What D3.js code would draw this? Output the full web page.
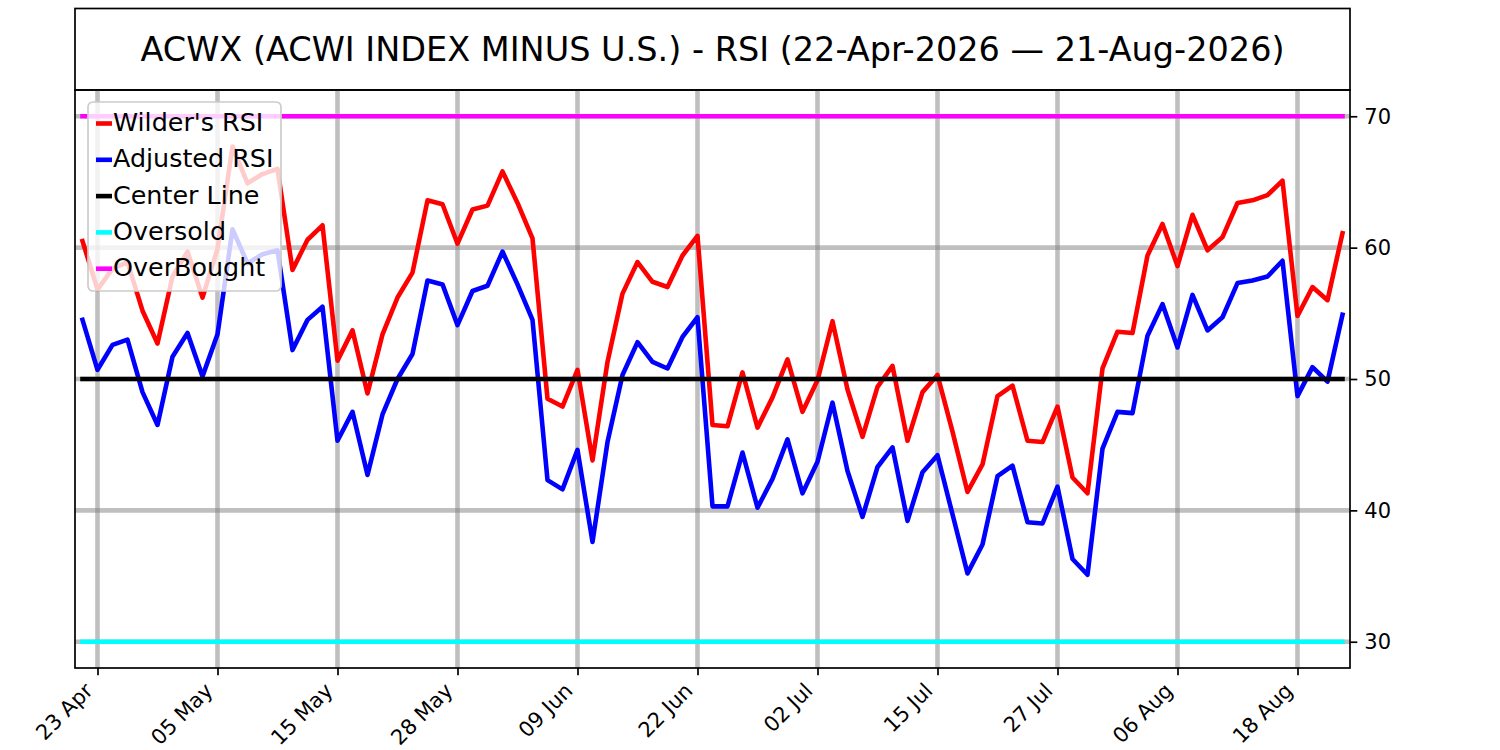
<!DOCTYPE html>
<html>
<head>
<meta charset="utf-8">
<script src="https://cdn.jsdelivr.net/npm/d3@7"></script>
<style>
  body { margin: 0; background: #fff; }
  text { font-family: "DejaVu Sans", sans-serif; }
</style>
</head>
<body>
<svg width="1500" height="750"></svg>
<script>
// trading days shown on the chart (US holidays skipped)
const dates = [
  "2026-04-22","2026-04-23","2026-04-24","2026-04-27","2026-04-28","2026-04-29","2026-04-30",
  "2026-05-01","2026-05-04","2026-05-05","2026-05-06","2026-05-07","2026-05-08","2026-05-11",
  "2026-05-12","2026-05-13","2026-05-14","2026-05-15","2026-05-18","2026-05-19","2026-05-20",
  "2026-05-21","2026-05-22","2026-05-26","2026-05-27","2026-05-28","2026-05-29","2026-06-01",
  "2026-06-02","2026-06-03","2026-06-04","2026-06-05","2026-06-08","2026-06-09","2026-06-10",
  "2026-06-11","2026-06-12","2026-06-15","2026-06-16","2026-06-17","2026-06-18","2026-06-22",
  "2026-06-23","2026-06-24","2026-06-25","2026-06-26","2026-06-29","2026-06-30","2026-07-01",
  "2026-07-02","2026-07-06","2026-07-07","2026-07-08","2026-07-09","2026-07-10","2026-07-13",
  "2026-07-14","2026-07-15","2026-07-16","2026-07-17","2026-07-20","2026-07-21","2026-07-22",
  "2026-07-23","2026-07-24","2026-07-27","2026-07-28","2026-07-29","2026-07-30","2026-07-31",
  "2026-08-03","2026-08-04","2026-08-05","2026-08-06","2026-08-07","2026-08-10","2026-08-11",
  "2026-08-12","2026-08-13","2026-08-14","2026-08-17","2026-08-18","2026-08-19","2026-08-20",
  "2026-08-21"
];

const wildersRsi = [
  60.5, 56.8, 58.4, 58.9, 55.2, 52.7, 57.8, 59.7, 56.2, 59.9,
  67.7, 64.9, 65.6, 66.0, 58.3, 60.6, 61.7, 51.4, 53.7, 48.9,
  53.4, 56.2, 58.1, 63.6, 63.3, 60.3, 62.9, 63.2, 65.8, 63.4,
  60.7, 48.5, 47.9, 50.7, 43.8, 51.3, 56.5, 58.9, 57.4, 57.0,
  59.4, 60.9, 46.5, 46.4, 50.5, 46.3, 48.6, 51.5, 47.5, 49.9,
  54.4, 49.2, 45.6, 49.4, 51.0, 45.3, 49.0, 50.3, 46.0, 41.4,
  43.5, 48.7, 49.5, 45.3, 45.2, 47.9, 42.5, 41.3, 50.8, 53.6,
  53.5, 59.4, 61.8, 58.6, 62.5, 59.8, 60.8, 63.4, 63.6, 64.0,
  65.1, 54.8, 57.0, 56.0, 61.1
];

const adjustedRsi = [
  54.5, 50.7, 52.6, 53.0, 49.0, 46.5, 51.7, 53.5, 50.2, 53.4,
  61.4, 58.8, 59.5, 59.8, 52.2, 54.5, 55.5, 45.3, 47.5, 42.7,
  47.3, 50.0, 51.9, 57.5, 57.2, 54.1, 56.7, 57.1, 59.7, 57.2,
  54.5, 42.3, 41.6, 44.6, 37.6, 45.2, 50.3, 52.8, 51.3, 50.8,
  53.2, 54.7, 40.3, 40.3, 44.4, 40.2, 42.4, 45.4, 41.3, 43.7,
  48.2, 43.0, 39.5, 43.3, 44.8, 39.2, 42.9, 44.2, 39.7, 35.2,
  37.4, 42.6, 43.4, 39.1, 39.0, 41.8, 36.3, 35.1, 44.7, 47.5,
  47.4, 53.3, 55.7, 52.4, 56.4, 53.7, 54.7, 57.3, 57.5, 57.8,
  59.0, 48.7, 50.9, 49.8, 54.9
];

const centerLevel = 50;
const oversoldLevel = 30;
const overboughtLevel = 70;

const yTicks = [30, 40, 50, 60, 70];
const tickEvery = 8;   // one date label every 8 sessions, starting at the 2nd

const title = "ACWX (ACWI INDEX MINUS U.S.) - RSI (22-Apr-2026 \u2014 21-Aug-2026)";

const svg = d3.select("svg");
const plotL = 75, plotR = 1350, plotT = 90, plotB = 668;
const lw = 4.6;

const parse = d3.timeParse("%Y-%m-%d");
const fmt = d3.timeFormat("%d %b");
const idx = d3.range(dates.length);

const x = d3.scaleLinear().domain([-0.5, dates.length - 0.5]).range([plotL, plotR]);
const y = d3.scaleLinear().domain([28, 72]).range([plotB, plotT]);

const tickIdx = idx.filter(i => i % tickEvery === 1);

// title box
svg.append("rect")
  .attr("x", plotL).attr("y", 8.5)
  .attr("width", plotR - plotL).attr("height", plotT - 8.5)
  .attr("fill", "none").attr("stroke", "black").attr("stroke-width", 1.7);
svg.append("text")
  .attr("x", (plotL + plotR) / 2).attr("y", 61)
  .attr("text-anchor", "middle")
  .attr("font-size", 33.5)
  .text(title);

svg.append("defs").append("clipPath").attr("id", "clip")
  .append("rect").attr("x", plotL).attr("y", plotT)
  .attr("width", plotR - plotL).attr("height", plotB - plotT);

// grid
const grid = svg.append("g").attr("stroke", "#808080").attr("stroke-opacity", 0.5).attr("stroke-width", lw);
grid.selectAll(".vg").data(tickIdx).join("line")
  .attr("x1", d => x(d)).attr("x2", d => x(d))
  .attr("y1", plotT).attr("y2", plotB);
grid.selectAll(".hg").data(yTicks).join("line")
  .attr("x1", plotL).attr("x2", plotR)
  .attr("y1", d => y(d)).attr("y2", d => y(d));

const line = d3.line().x((d, i) => x(i)).y(d => y(d));
const series = [
  { name: "Wilder's RSI", values: wildersRsi, color: "#ff0000" },
  { name: "Adjusted RSI", values: adjustedRsi, color: "#0000ff" },
  { name: "Center Line", values: idx.map(() => centerLevel), color: "#000000" },
  { name: "Oversold", values: idx.map(() => oversoldLevel), color: "#00ffff" },
  { name: "OverBought", values: idx.map(() => overboughtLevel), color: "#ff00ff" }
];

svg.append("g").attr("clip-path", "url(#clip)")
  .selectAll("path").data(series).join("path")
  .attr("d", d => line(d.values))
  .attr("fill", "none")
  .attr("stroke", d => d.color)
  .attr("stroke-width", lw)
  .attr("stroke-linejoin", "round")
  .attr("stroke-linecap", "square");

// axes
const xAxis = d3.axisBottom(x).tickValues(tickIdx).tickFormat(i => fmt(parse(dates[i])))
  .tickSizeOuter(0).tickSize(7.3).tickPadding(7);
const gx = svg.append("g").attr("transform", `translate(0,${plotB})`).call(xAxis);
gx.select(".domain").remove();
gx.selectAll(".tick line").attr("stroke", "black").attr("stroke-width", 1.7);
gx.selectAll(".tick text")
  .attr("font-size", 21)
  .attr("font-family", "DejaVu Sans")
  .attr("fill", "black")
  .attr("text-anchor", "end")
  .attr("dy", null).attr("y", null)
  .attr("transform", "translate(-4,24) rotate(-45)");

const yAxis = d3.axisRight(y).tickValues(yTicks).tickSizeOuter(0).tickSize(7.3).tickPadding(7);
const gy = svg.append("g").attr("transform", `translate(${plotR},0)`).call(yAxis);
gy.select(".domain").remove();
gy.selectAll(".tick line").attr("stroke", "black").attr("stroke-width", 1.7);
gy.selectAll(".tick text").attr("font-size", 21).attr("font-family", "DejaVu Sans").attr("fill", "black");

// frame
svg.append("rect")
  .attr("x", plotL).attr("y", plotT)
  .attr("width", plotR - plotL).attr("height", plotB - plotT)
  .attr("fill", "none").attr("stroke", "black").attr("stroke-width", 1.7);

// legend
const lg = svg.append("g");
lg.append("rect")
  .attr("x", 88).attr("y", 102).attr("width", 193).attr("height", 189).attr("rx", 5)
  .attr("fill", "white").attr("fill-opacity", 0.8)
  .attr("stroke", "#cccccc").attr("stroke-width", 1.7);
const rows = lg.selectAll(".row").data(series).join("g")
  .attr("transform", (d, i) => `translate(0,${123.5 + i * 36.3})`);
rows.append("line")
  .attr("x1", 96).attr("x2", 112).attr("y1", 0).attr("y2", 0)
  .attr("stroke", d => d.color).attr("stroke-width", lw);
rows.append("text")
  .attr("x", 113).attr("y", 7.5)
  .attr("font-size", 25.4)
  .text(d => d.name);
</script>
</body>
</html>
